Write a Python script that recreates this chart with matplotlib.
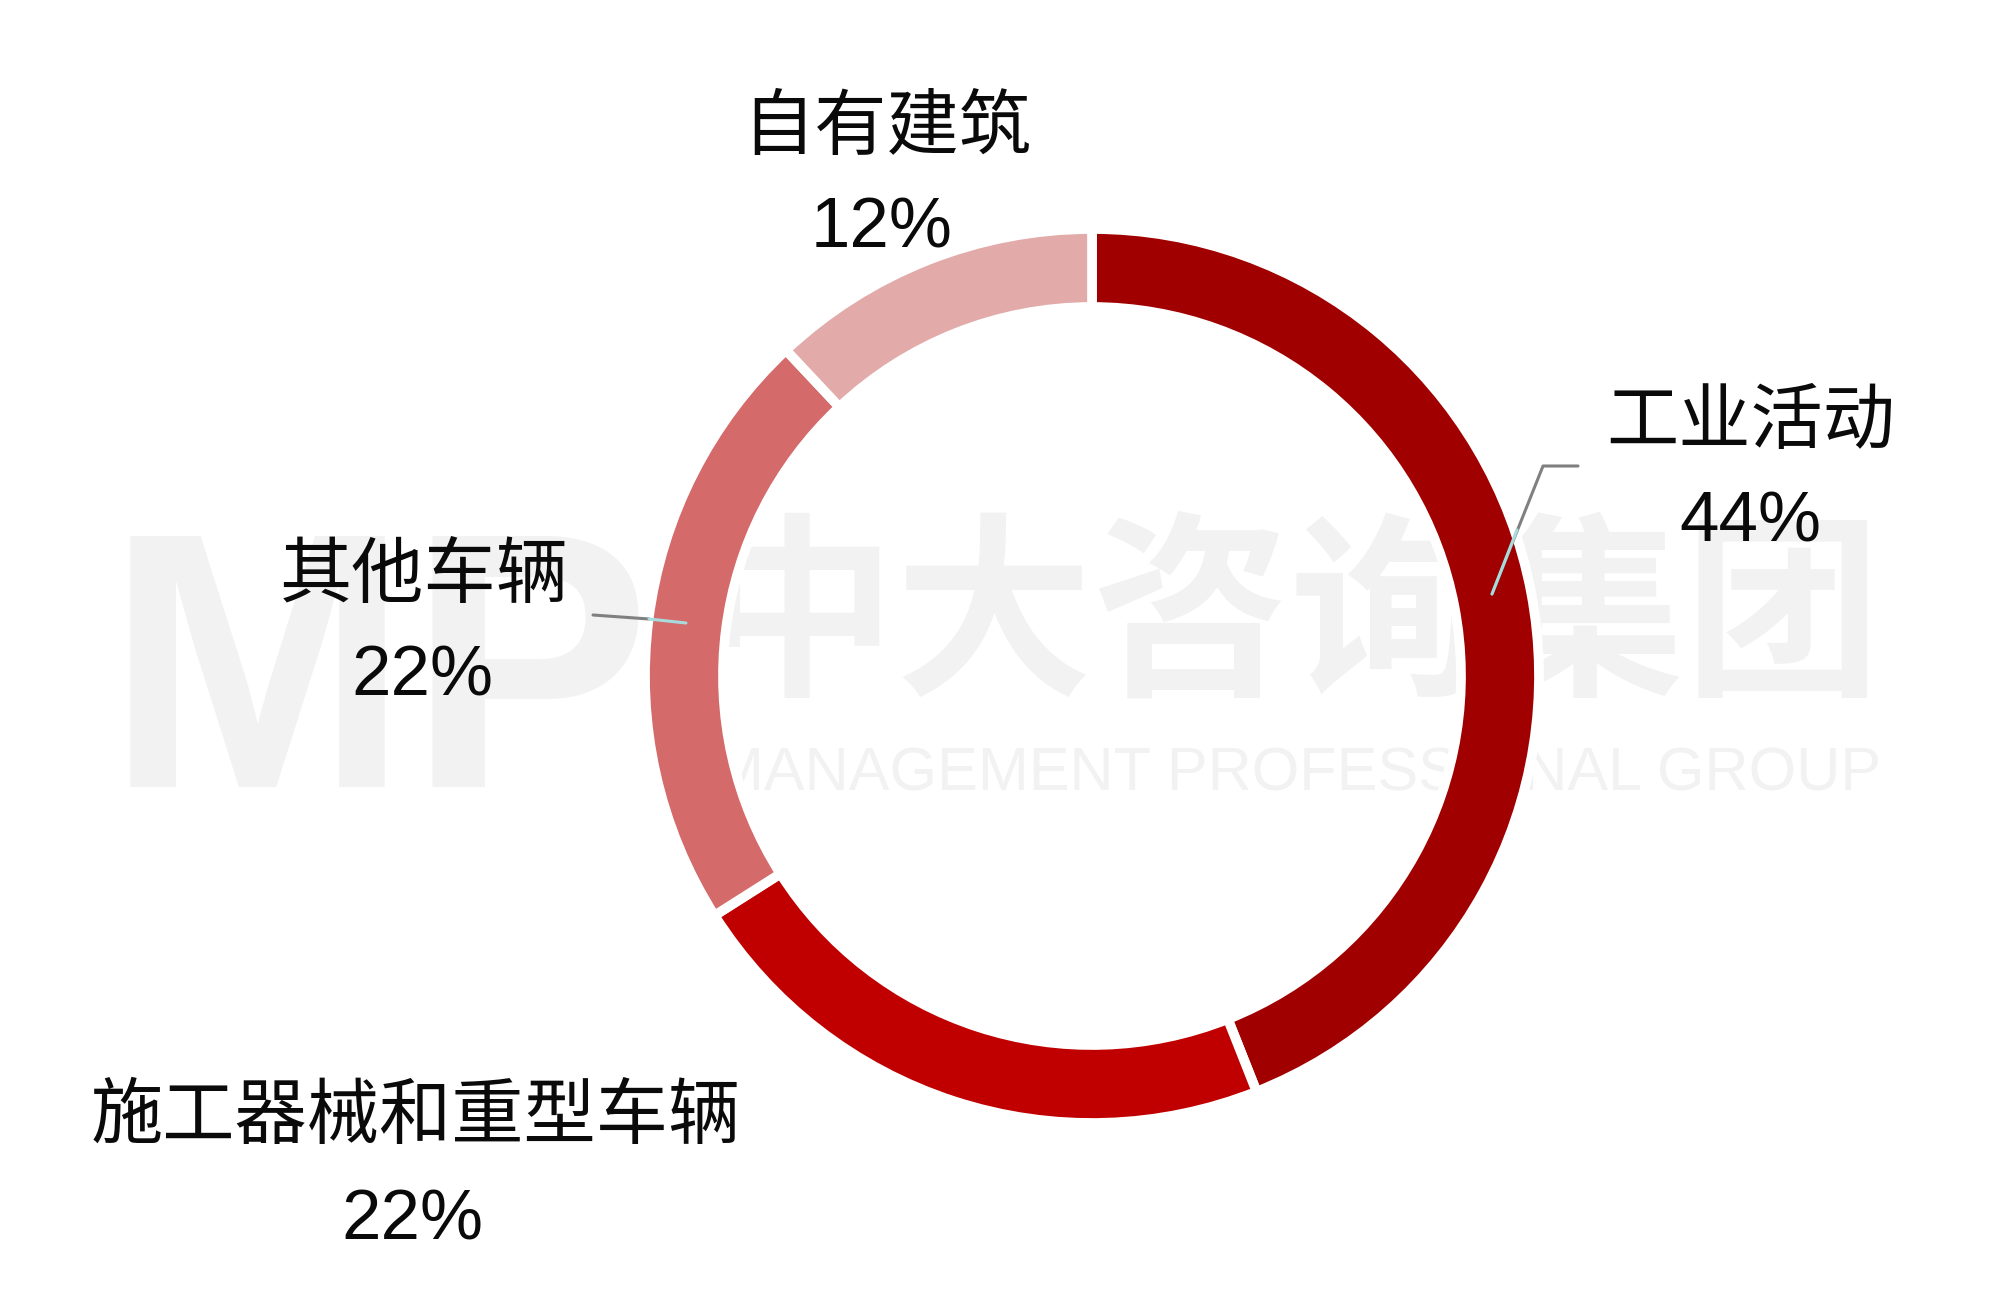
import matplotlib
matplotlib.use('Agg')
import matplotlib.pyplot as plt

W, H = 2000, 1315

labels = ['工业活动', '施工器械和重型车辆', '其他车辆', '自有建筑']
shares = [44, 22, 22, 12]
colors = ['#A00000', '#C00000', '#D46A6A', '#E3AAAA']

# label anchor points in image pixels (x, y from top)
name_pos = [(1751, 422), (416, 1117), (424, 576), (887, 128)]
pct_pos = [(1750, 541), (412, 1239), (422, 695), (882, 247)]

cjk = ['Noto Sans CJK SC', 'DejaVu Sans']
wm = '#F2F2F2'

fig = plt.figure(figsize=(W / 100, H / 100), dpi=100)
fig.patch.set_facecolor('white')
ax = fig.add_axes([0, 0, 1, 1])

def Y(y):
    return H - y

# watermark behind the ring
ax.text(106, Y(787), 'MP', fontsize=262, fontweight='bold', family='Liberation Sans',
        color=wm, ha='left', va='baseline', zorder=0)
ax.text(1290, Y(622), '中大咨询集团', fontsize=142, fontweight='bold', family=cjk,
        color=wm, ha='center', va='center', zorder=0)
ax.text(1297, Y(790), 'MANAGEMENT PROFESSIONAL GROUP', fontsize=44, family='Liberation Sans',
        color=wm, ha='center', va='baseline', zorder=0)

cx, cy, R = 1092, 676, 447
wedges, _ = ax.pie(shares, colors=colors, startangle=90, counterclock=False,
                   center=(cx, Y(cy)), radius=R,
                   wedgeprops=dict(width=78, edgecolor='white', linewidth=7))
for w in wedges:
    w.set_zorder(2)

# leader lines
ax.plot([1578, 1543, 1492], [Y(466), Y(466), Y(594)], color='#808080', lw=2.2, zorder=3,
        solid_capstyle='round')
ax.plot([1517, 1492], [Y(530), Y(594)], color='#A8DCDC', lw=2.2, zorder=4,
        solid_capstyle='round')
ax.plot([593, 649], [Y(615), Y(619)], color='#808080', lw=2.2, zorder=3,
        solid_capstyle='round')
ax.plot([649, 686], [Y(619), Y(623)], color='#A8DCDC', lw=2.2, zorder=4,
        solid_capstyle='round')

for lab, v, (nx, ny), (px, py) in zip(labels, shares, name_pos, pct_pos):
    ax.text(nx, Y(ny), lab, fontsize=52, family=cjk, color='#0A0A0A',
            ha='center', va='center', zorder=5)
    ax.text(px, Y(py), '{}%'.format(v), fontsize=51, family='Liberation Sans',
            color='#0A0A0A', ha='center', va='baseline', zorder=5)

ax.set_xlim(0, W)
ax.set_ylim(0, H)
ax.set_aspect('equal')
ax.axis('off')

fig.savefig('out.png', dpi=100, facecolor='white')
